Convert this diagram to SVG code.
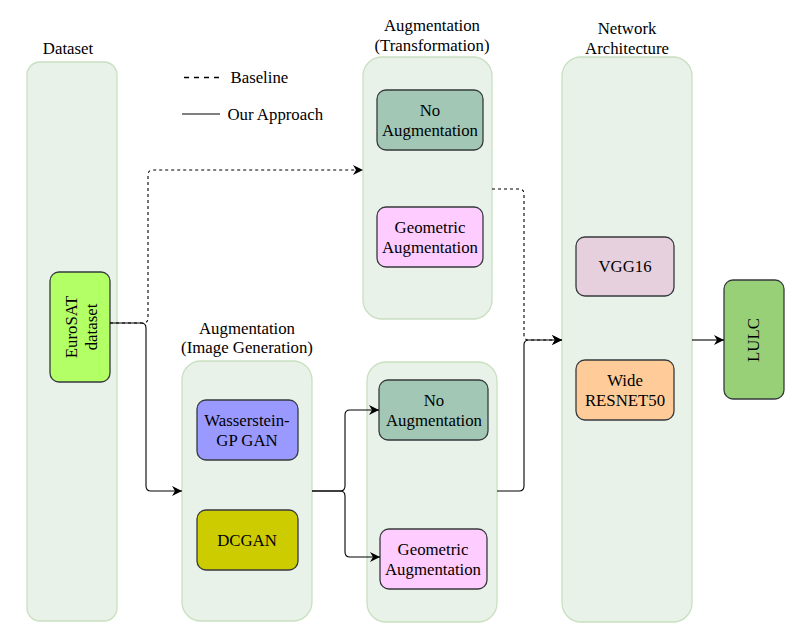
<svg xmlns="http://www.w3.org/2000/svg" width="785" height="624" viewBox="0 0 785 624">
<defs>
<style>
text{font-family:"Liberation Serif","Times New Roman",serif;font-size:16.8px;fill:#000;}
.c{text-anchor:middle;}
.cont{fill:#e8f2e8;stroke:#c9e0c0;stroke-width:1.3;}
.box{stroke:#36393d;stroke-width:1.3;}
.e{fill:none;stroke:#000;stroke-width:1.1;}
.d{stroke-dasharray:3 3;}
</style>
<marker id="ar" viewBox="0 0 10 10" refX="10" refY="5" markerWidth="10" markerHeight="10" markerUnits="userSpaceOnUse" orient="auto">
<path d="M0,0 L10,5 L0,10 L3,5 Z" fill="#000"/>
</marker>
</defs>
<rect width="785" height="624" fill="#fff"/>

<g id="legend">
<line x1="184" y1="77.5" x2="223" y2="77.5" stroke="#000" stroke-width="1.6" stroke-dasharray="5 5"/>
<text x="230.5" y="82.5">Baseline</text>
<line x1="182" y1="114" x2="220" y2="114" stroke="#000" stroke-width="1"/>
<text x="227.5" y="119.5">Our Approach</text>
</g>

<g id="dataset-container">
<rect class="cont" x="27" y="62" width="90" height="559" rx="13"/>
<text class="c" x="68" y="53.5">Dataset</text>
</g>
<g id="imagegen-container">
<rect class="cont" x="182" y="361" width="130" height="260" rx="19"/>
<text class="c" x="247" y="333.5">Augmentation</text>
<text class="c" x="247" y="353">(Image Generation)</text>
</g>
<g id="transformation-container">
<rect class="cont" x="363" y="57" width="129" height="262" rx="19"/>
<text class="c" x="432" y="31">Augmentation</text>
<text class="c" x="432" y="50.5">(Transformation)</text>
</g>
<g id="aug2-container">
<rect class="cont" x="367" y="362" width="130" height="260" rx="19"/>
</g>
<g id="network-container">
<rect class="cont" x="562" y="57" width="130" height="565" rx="19"/>
<text class="c" x="627" y="33.5">Network</text>
<text class="c" x="627" y="53.5">Architecture</text>
</g>

<g id="eurosat">
<rect class="box" x="50" y="272" width="60" height="110" rx="9" fill="#b3ff66"/>
<g transform="translate(80,327) rotate(-90)">
<text class="c" x="0" y="-3">EuroSAT</text>
<text class="c" x="0" y="17">dataset</text>
</g>
</g>

<g id="noaug1">
<rect class="box" x="377" y="90" width="106" height="60" rx="9" fill="#a2c8b5"/>
<text class="c" x="430" y="116">No</text>
<text class="c" x="430" y="136">Augmentation</text>
</g>
<g id="geo1">
<rect class="box" x="377" y="207" width="106" height="60" rx="9" fill="#ffccff"/>
<text class="c" x="430" y="232.5">Geometric</text>
<text class="c" x="430" y="252.5">Augmentation</text>
</g>

<g id="wgan">
<rect class="box" x="197" y="400" width="101" height="60" rx="9" fill="#9999ff"/>
<text class="c" x="247" y="426">Wasserstein-</text>
<text class="c" x="247" y="445.5">GP GAN</text>
</g>
<g id="dcgan">
<rect class="box" x="197" y="510" width="101" height="60" rx="9" fill="#cccc00"/>
<text class="c" x="247" y="546">DCGAN</text>
</g>

<g id="noaug2">
<rect class="box" x="379" y="380" width="109" height="60" rx="9" fill="#a2c8b5"/>
<text class="c" x="434" y="406">No</text>
<text class="c" x="434" y="426">Augmentation</text>
</g>
<g id="geo2">
<rect class="box" x="380" y="529" width="107" height="60" rx="9" fill="#ffccff"/>
<text class="c" x="433" y="555">Geometric</text>
<text class="c" x="433" y="575">Augmentation</text>
</g>

<g id="vgg16">
<rect class="box" x="576" y="237" width="98" height="59" rx="9" fill="#e6d0de"/>
<text class="c" x="625" y="272">VGG16</text>
</g>
<g id="wideresnet">
<rect class="box" x="576" y="360" width="98" height="60" rx="9" fill="#ffcc99"/>
<text class="c" x="625" y="386">Wide</text>
<text class="c" x="625" y="406">RESNET50</text>
</g>

<g id="lulc">
<rect class="box" x="724" y="280" width="60" height="119" rx="9" fill="#97d077"/>
<text class="c" transform="translate(759,340) rotate(-90)" x="0" y="0">LULC</text>
</g>

<g id="connectors">
<path class="e d" d="M110,323 H143 Q148,323 148,318 V175 Q148,170 153,170 H363" marker-end="url(#ar)" stroke="#555"/>
<path class="e" d="M110,323 H141 Q146,323 146,328 V486 Q146,491 151,491 H182" marker-end="url(#ar)"/>
<path class="e" d="M312,491 H340 Q345,491 345,486 V415 Q345,410 350,410 H379" marker-end="url(#ar)"/>
<path class="e" d="M312,491 H340 Q345,491 345,496 V552 Q345,557 350,557 H380" marker-end="url(#ar)"/>
<path class="e d" d="M492,189 H519 Q524,189 524,194 V335 Q524,340 529,340 H562" marker-end="url(#ar)"/>
<path class="e" d="M497,491 H519 Q524,491 524,486 V345 Q524,340 529,340 H562" marker-end="url(#ar)"/>
<path class="e" d="M692,340 H724" marker-end="url(#ar)"/>
</g>
</svg>
